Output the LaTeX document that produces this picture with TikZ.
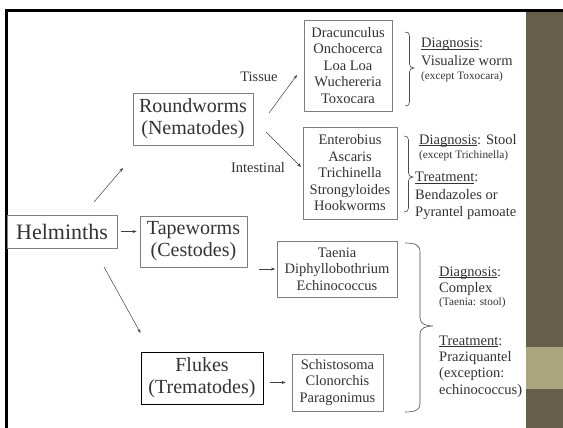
\documentclass[tikz,border=0pt]{standalone}
\usepackage{fontspec}
\setmainfont{Liberation Serif}
\usetikzlibrary{arrows.meta}
\definecolor{ink}{HTML}{333333}
\definecolor{panel}{HTML}{665E48}
\definecolor{band}{HTML}{AAA67F}
\definecolor{edge}{HTML}{7F7F7F}
% soft grey towards the corners of the slide
\pgfdeclareradialshading{vignette}{\pgfpoint{0bp}{0bp}}{color(0bp)=(white); color(40bp)=(white); color(56bp)=(black!6); color(72bp)=(black!14)}
% underline sitting just below the baseline
\newcommand\undl[1]{\setbox0\hbox{#1}\rlap{\rule[-1.4pt]{\wd0}{0.5pt}}\box0}
\begin{document}
\begin{tikzpicture}[x=1pt,y=-1pt,
  group/.style={draw=edge, line width=0.8pt, text=ink, inner sep=0pt, align=center,
    font=\fontsize{20}{22}\selectfont},
  species/.style={draw=edge, line width=0.8pt, text=ink, inner sep=0pt, align=center,
    font=\fontsize{14.5}{16.5}\selectfont},
  lbl/.style={text=ink, inner sep=0pt, font=\fontsize{14.5}{16}\selectfont},
  note/.style={anchor=base west, text=ink, inner sep=0pt, font=\fontsize{14.5}{16}\selectfont},
  tiny/.style={note, font=\fontsize{11.3}{12}\selectfont},
  arr/.style={draw=black!75, line width=0.5pt, -{Stealth[length=4pt,width=3pt]}},
  brace/.style={draw=black!70, line width=0.6pt}]
\useasboundingbox (0,0) rectangle (563,428);
% slide background, frame and side panel
\fill[white] (0,0) rectangle (563,428);
\shade[shading=vignette] (7,12) rectangle (526,428);
\fill[panel] (526,11) rectangle (563,428);
\fill[band] (526,347) rectangle (563,389);
\fill[black] (5,9) rectangle (563,12);
\fill[black] (5,9) rectangle (7.5,428);

% boxes
\node[group, font=\fontsize{22}{24}\selectfont, minimum width=110, minimum height=33] (helm) at (62,231.5) {Helminths};
\node[group, minimum width=120, minimum height=52] (round) at (193,119) {Roundworms\\(Nematodes)};
\node[group, minimum width=107, minimum height=51] (tape) at (193.5,241.5) {Tapeworms\\(Cestodes)};
\node[group, draw=black, minimum width=122, minimum height=52] (fluke) at (202,378) {Flukes\\(Trematodes)};
\node[species, minimum width=88, minimum height=91] (tissue) at (348,65.5) {Dracunculus\\Onchocerca\\Loa Loa\\Wuchereria\\Toxocara};
\node[species, minimum width=94, minimum height=92] (intest) at (350,173) {Enterobius\\Ascaris\\Trichinella\\Strongyloides\\Hookworms};
\node[species, minimum width=120, minimum height=56] (taenia) at (337,269) {Taenia\\Diphyllobothrium\\Echinococcus};
\node[species, minimum width=91, minimum height=57] (schisto) at (337.5,382.5) {Schistosoma\\Clonorchis\\Paragonimus};

% branch labels
\node[lbl] (ltissue) at (259,77) {Tissue};
\node[lbl] (lintest) at (258,168) {Intestinal};

% arrow end points
\coordinate (hr0) at (94,202);   \coordinate (hr1) at (123,168);
\coordinate (hf0) at (104,267);  \coordinate (hf1) at (140.5,333);
\coordinate (rt0) at (269,113);  \coordinate (rt1) at (297,75);
\coordinate (ri0) at (266,132);  \coordinate (ri1) at (301,167);

\draw[arr] (hr0) -- (hr1);
\draw[arr] (hf0) -- (hf1);
\draw[arr, shorten <=4pt, shorten >=3pt] (helm.east) -- (tape.west |- helm.east);
\draw[arr] (rt0) -- (rt1);
\draw[arr] (ri0) -- (ri1);
\draw[arr] ([xshift=12pt]tape.east |- taenia.west) -- ([xshift=-1.5pt]taenia.west);
\draw[arr] ([xshift=7pt]fluke.east |- schisto.west) -- ([xshift=-6pt]schisto.west);

% braces
\draw[brace] (405,32) .. controls (408,32) and (409.5,33) .. (409.5,36) -- (409.5,64)
  .. controls (409.5,66.5) and (411,68) .. (414,68)
  .. controls (411,68) and (409.5,69.5) .. (409.5,72) -- (409.5,102)
  .. controls (409.5,105) and (408,106) .. (405,106);
\draw[brace] (404,136) .. controls (407,136) and (408.5,137) .. (408.5,140) -- (408.5,173)
  .. controls (408.5,175.5) and (410,177) .. (413,177)
  .. controls (410,177) and (408.5,178.5) .. (408.5,181) -- (408.5,208)
  .. controls (408.5,211) and (407,212) .. (404,212);
\draw[brace] (405,243) .. controls (415,243) and (420,245) .. (420,252) -- (420,318)
  .. controls (420,324) and (426,326) .. (433,326)
  .. controls (426,326) and (420,328) .. (420,334) -- (420,404)
  .. controls (420,410) and (415,412) .. (405,412);

% notes beside the braces
\node[note] (d1) at (421,48) {\undl{Diagnosis}:};
\node[note] (d1a) at (421,66) {Visualize worm};
\node[tiny] (d1b) at (421,79.5) {(except Toxocara)};

\node[note] (d2) at (419,144) {\undl{Diagnosis}: Stool};
\node[tiny] (d2a) at (419,158.5) {(except Trichinella)};
\node[note] (t2) at (415,182) {\undl{Treatment}:};
\node[note] (t2a) at (415,199) {Bendazoles or};
\node[note] (t2b) at (415,216) {Pyrantel pamoate};

\node[note] (d3) at (439,276) {\undl{Diagnosis}:};
\node[note] (d3a) at (439,292) {Complex};
\node[tiny] (d3b) at (439,305.5) {(Taenia: stool)};
\node[note] (t3) at (439,345) {\undl{Treatment}:};
\node[note] (t3a) at (439,361) {Praziquantel};
\node[note] (t3b) at (439,377) {(exception:};
\node[note] (t3c) at (439,394) {echinococcus)};
\end{tikzpicture}
\end{document}
